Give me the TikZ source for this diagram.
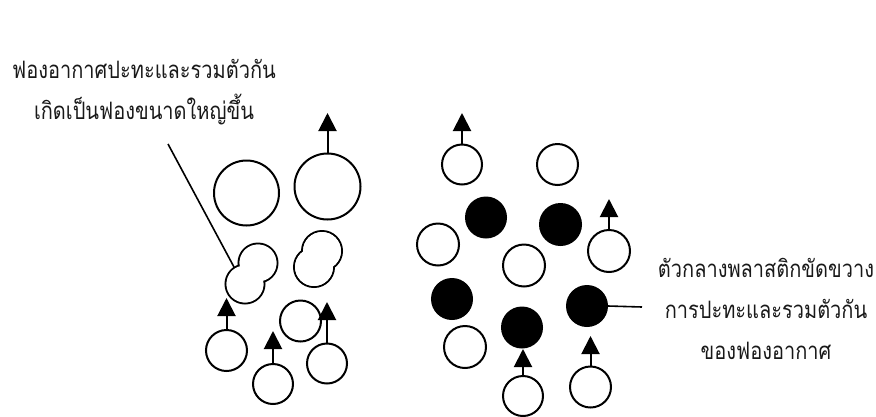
\documentclass[tikz,border=0pt]{standalone}
\usepackage{fontspec}
\usepackage{graphicx}
\newfontfamily\thaifont[Script=Thai]{Loma}
\usetikzlibrary{arrows.meta}
% Thai lines set slightly taller than the font's natural shape
\newcommand{\tallline}[1]{\scalebox{1}[1.2]{#1}}
\begin{document}
\begin{tikzpicture}[x=1pt,y=-1pt,
  bubble/.style={circle,draw,line width=2pt,fill=white,inner sep=0pt,minimum size=#1},
  plastic/.style={circle,draw,line width=2pt,fill=black,inner sep=0pt,minimum size=#1},
  rise/.style={line width=2pt,-{Triangle[length=18pt,width=18pt]}},
  pointer/.style={line width=1.6pt},
  label/.style={font=\thaifont\fontsize{20}{41}\selectfont,align=center,inner sep=0pt,text=black!90}
]
\useasboundingbox (0,0) rectangle (876,416);

% --- left group: free bubbles merging ---
\node[bubble=65] (a)  at (246.5,193) {};
\node[bubble=66] (b)  at (327.5,186.5) {};
\node[bubble=41] (c1) at (226.5,350.5) {};
\node[bubble=40] (c2) at (273,384) {};
\node[bubble=41] (c3) at (300.5,321) {};
\node[bubble=40] (c4) at (327,363.5) {};

% coalescing pairs: union outline of two overlapping circles
\draw[line width=2pt] (258,263) circle (19.5) (245,284) circle (19.5);
\fill[white] (258,263) circle (18.5) (245,284) circle (18.5);
\draw[line width=2pt] (322,251) circle (20) (314,267) circle (20);
\fill[white] (322,251) circle (19) (314,267) circle (19);

\coordinate (tb)  at (327.5,113);
\coordinate (tc1) at (226.5,298);
\coordinate (tc2) at (273,331);
\coordinate (tc4) at (327,302);
\draw[rise] (b.north)  -- (tb);
\draw[rise] (c1.north) -- (tc1);
\draw[rise] (c2.north) -- (tc2);
\draw[rise] (c4.north) -- (tc4);

\node[label] (lefttext) at (144,92)
  {\tallline{ฟองอากาศปะทะและรวมตัวกัน}\\\tallline{เกิดเป็นฟองขนาดใหญ่ขึ้น}};
\coordinate (lstart) at (168,144);
\coordinate (notch) at (234,267);
\draw[pointer] (lstart) -- (notch);

% --- right group: bubbles among plastic media ---
\node[bubble=40] (d1) at (462,164.5) {};
\node[bubble=41] (d2) at (557.5,164.5) {};
\node[bubble=42] (d3) at (609,251) {};
\node[bubble=42] (d4) at (438,244.5) {};
\node[bubble=42] (d5) at (524,265.5) {};
\node[bubble=42] (d6) at (465,347) {};
\node[bubble=40] (d7) at (523,396) {};
\node[bubble=41] (d8) at (590.5,387) {};

\node[plastic=40] (p1) at (486,217.5) {};
\node[plastic=41] (p2) at (560.5,224.5) {};
\node[plastic=40] (p3) at (452,299) {};
\node[plastic=40] (p4) at (587,306) {};
\node[plastic=40] (p5) at (522,327.5) {};

\coordinate (td1) at (462,113);
\coordinate (td3) at (609,199);
\coordinate (td7) at (523,349);
\coordinate (td8) at (590.5,336);
\draw[rise] (d1.north) -- (td1);
\draw[rise] (d3.north) -- (td3);
\draw[rise] (d7.north) -- (td7);
\draw[rise] (d8.north) -- (td8);

\node[label] (righttext) at (766,309)
  {\tallline{ตัวกลางพลาสติกขัดขวาง}\\\tallline{การปะทะและรวมตัวกัน}\\\tallline{ของฟองอากาศ}};
\coordinate (rend) at (642,307);
\draw[pointer] (p4.east) -- (rend);
\end{tikzpicture}
\end{document}
